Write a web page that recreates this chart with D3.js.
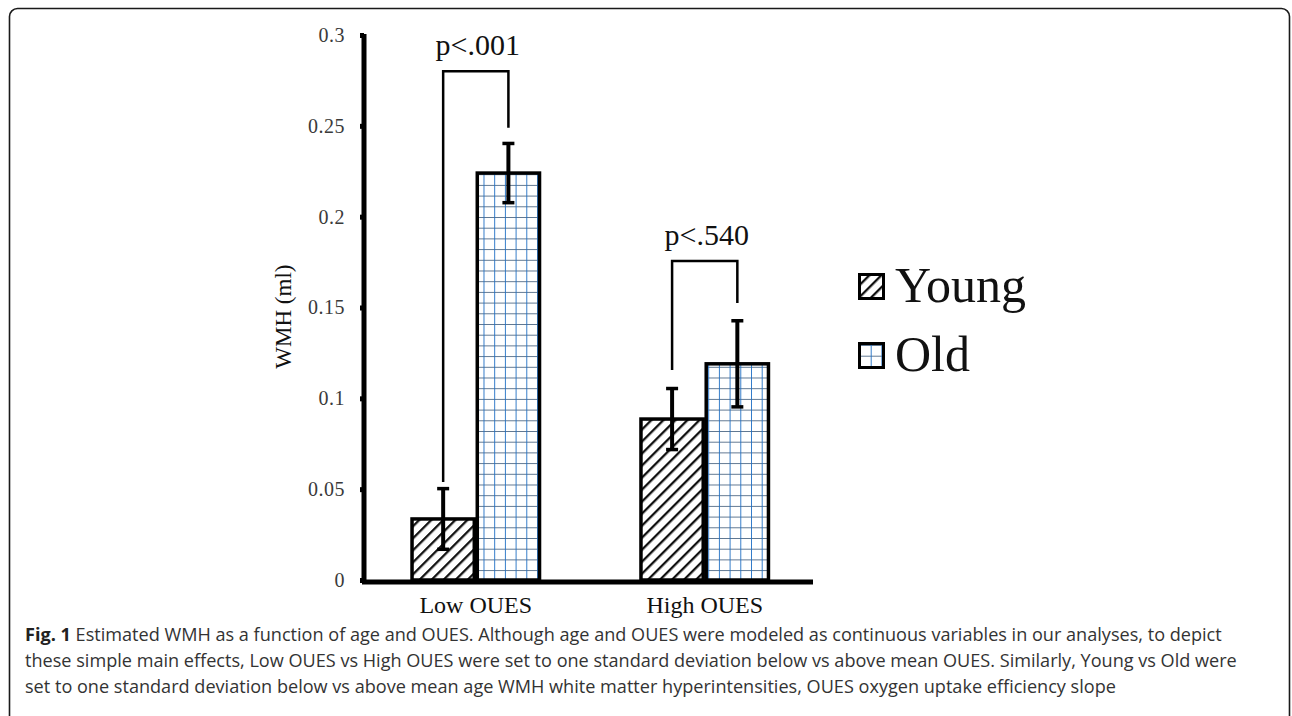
<!DOCTYPE html>
<html>
<head>
<meta charset="utf-8">
<script src="https://cdn.jsdelivr.net/npm/d3@7"></script>
<style>
  body { margin: 0; background: #fff; }
  svg { display: block; }
</style>
</head>
<body>
<div id="chart-container"></div>
<script>
// data
var groups = ["Low OUES", "High OUES"];
var series = ["Young", "Old"];
var youngMeans = [0.0336, 0.0886];
var youngErr = [0.0167, 0.0168];
var oldMeans = [0.224, 0.119];
var oldErr = [0.0163, 0.0237];
var yTicks = [0, 0.05, 0.1, 0.15, 0.2, 0.25, 0.3];
// brackets: label, top of bracket, where the left / right legs stop
var pLabels = ["p<.001", "p<.540"];
var bracketTop = [0.280, 0.1756];
var bracketLeftEnd = [0.054, 0.1156];
var bracketRightEnd = [0.249, 0.1525];

var captionLines = [
  [{b: "Fig. 1"}, " Estimated WMH as a function of age and OUES. Although age and OUES were modeled as continuous variables in our analyses, to depict"],
  ["these simple main effects, Low OUES vs High OUES were set to one standard deviation below vs above mean OUES. Similarly, Young vs Old were"],
  ["set to one standard deviation below vs above mean age WMH white matter hyperintensities, OUES oxygen uptake efficiency slope"]
];

var width = 1292, height = 716;
var margin = {top: 35, left: 362, bottom: 136, right: 479};

var svg = d3.select("#chart-container")
  .append("svg")
    .attr("width", width)
    .attr("height", height)
    .style("background", "#fff");

// frame round the figure
svg.append("rect")
  .attr("x", 9.5).attr("y", 8.5)
  .attr("width", 1280).attr("height", 760)
  .attr("rx", 8)
  .attr("fill", "none")
  .attr("stroke", "#1a1a1a")
  .attr("stroke-width", 1.6);

var defs = svg.append("defs");

// Young: diagonal hatch
var hatch = defs.append("pattern")
  .attr("id", "hatch")
  .attr("patternUnits", "userSpaceOnUse")
  .attr("width", 8.5).attr("height", 8.5)
  .attr("patternTransform", "rotate(45)");
hatch.append("rect").attr("width", 8.5).attr("height", 8.5).attr("fill", "#fff");
hatch.append("line")
  .attr("x1", 0).attr("y1", 0).attr("x2", 0).attr("y2", 8.5)
  .attr("stroke", "#111").attr("stroke-width", 4.6);

// Old: blue grid
var grid = defs.append("pattern")
  .attr("id", "grid")
  .attr("patternUnits", "userSpaceOnUse")
  .attr("x", 2).attr("y", 3)
  .attr("width", 10.7).attr("height", 10.7);
grid.append("rect").attr("width", 10.7).attr("height", 10.7).attr("fill", "#fff");
grid.append("line")
  .attr("x1", 0).attr("y1", 0).attr("x2", 10.7).attr("y2", 0)
  .attr("stroke", "#3a5878").attr("stroke-width", 1.6);
grid.append("line")
  .attr("x1", 0).attr("y1", 0).attr("x2", 0).attr("y2", 10.7)
  .attr("stroke", "#1f6fc4").attr("stroke-width", 1.8);

var fills = {Young: "url(#hatch)", Old: "url(#grid)"};

var y = d3.scaleLinear()
  .domain([0, 0.3])
  .range([height - margin.bottom, margin.top]);

var x0 = d3.scaleBand()
  .domain(groups)
  .range([margin.left, width - margin.right])
  .paddingInner(0.43)
  .paddingOuter(0.2)
  .align(0.53);

var x1 = d3.scaleBand()
  .domain(series)
  .range([0, x0.bandwidth()])
  .padding(0);

var rows = groups.map(function(g, i) {
  return {
    group: g,
    bars: [
      {s: "Young", v: youngMeans[i], e: youngErr[i]},
      {s: "Old", v: oldMeans[i], e: oldErr[i]}
    ]
  };
});

// bars
var gBars = svg.append("g");
rows.forEach(function(r) {
  gBars.selectAll(null)
    .data(r.bars)
    .enter()
    .append("rect")
      .attr("x", function(d) { return x0(r.group) + x1(d.s) + 1.5; })
      .attr("y", function(d) { return y(d.v); })
      .attr("width", x1.bandwidth() - 3)
      .attr("height", function(d) { return y(0) - y(d.v); })
      .attr("fill", function(d) { return fills[d.s]; })
      .attr("stroke", "#000")
      .attr("stroke-width", 3.5);
});

// error bars
rows.forEach(function(r) {
  r.bars.forEach(function(d) {
    var cx = x0(r.group) + x1(d.s) + x1.bandwidth() / 2;
    var g = svg.append("g").attr("stroke", "#000");
    g.append("line")
      .attr("x1", cx).attr("x2", cx)
      .attr("y1", y(d.v + d.e)).attr("y2", y(d.v - d.e))
      .attr("stroke-width", 4);
    [d.v + d.e, d.v - d.e].forEach(function(v) {
      g.append("line")
        .attr("x1", cx - 6).attr("x2", cx + 6)
        .attr("y1", y(v)).attr("y2", y(v))
        .attr("stroke-width", 3.5);
    });
  });
});

// significance brackets
groups.forEach(function(g, i) {
  var lx = x0(g) + x1("Young") + x1.bandwidth() / 2;
  var rx = x0(g) + x1("Old") + x1.bandwidth() / 2;
  svg.append("path")
    .attr("d", "M" + lx + "," + y(bracketLeftEnd[i]) +
               "V" + y(bracketTop[i]) +
               "H" + rx +
               "V" + y(bracketRightEnd[i]))
    .attr("fill", "none")
    .attr("stroke", "#000")
    .attr("stroke-width", 2.5);
  svg.append("text")
    .attr("x", (lx + rx) / 2 + 2)
    .attr("y", y(bracketTop[i]) - 16)
    .attr("text-anchor", "middle")
    .style("font-family", "'Liberation Serif', serif")
    .style("font-size", "30px")
    .style("fill", "#111")
    .text(pLabels[i]);
});

// y axis
var yAxis = svg.append("g")
  .attr("transform", "translate(" + (margin.left + 2) + ",0)")
  .call(d3.axisLeft(y).tickValues(yTicks).tickFormat(d3.format("")).tickSize(4).tickPadding(15));
yAxis.select(".domain")
  .attr("stroke", "#000")
  .attr("stroke-width", 5)
  .attr("d", "M0," + (y(0.3) - 1) + "V" + y(0));
yAxis.selectAll(".tick line").attr("stroke", "#000").attr("stroke-width", 5);
yAxis.selectAll(".tick text")
  .style("font-family", "'Liberation Serif', serif")
  .style("font-size", "20px")
  .style("letter-spacing", "0.5px")
  .style("fill", "#3a3a3a");

// x axis
var xAxis = svg.append("g")
  .attr("transform", "translate(0," + (y(0) + 2) + ")")
  .call(d3.axisBottom(x0).tickSize(0).tickPadding(14));
xAxis.select(".domain")
  .attr("stroke", "#000")
  .attr("stroke-width", 5)
  .attr("d", "M" + margin.left + ",0H" + (width - margin.right));
xAxis.selectAll(".tick text")
  .style("font-family", "'Liberation Serif', serif")
  .style("font-size", "24px")
  .style("fill", "#111");

// y label
svg.append("text")
  .attr("transform", "translate(291," + y(0.145) + ") rotate(-90)")
  .attr("text-anchor", "middle")
  .style("font-family", "'Liberation Serif', serif")
  .style("font-size", "23px")
  .style("fill", "#111")
  .text("WMH (ml)");

// legend
var legend = svg.append("g").attr("transform", "translate(858,273)");
series.forEach(function(s, i) {
  var item = legend.append("g").attr("transform", "translate(0," + (i * 69) + ")");
  item.append("rect")
    .attr("x", 1.5).attr("y", 1.5)
    .attr("width", 24).attr("height", 24)
    .attr("fill", fills[s])
    .attr("stroke", "#000")
    .attr("stroke-width", 3);
  item.append("text")
    .attr("x", 37).attr("y", 29)
    .style("font-family", "'Liberation Serif', serif")
    .style("font-size", "50px")
    .style("fill", "#111")
    .text(s);
});

// caption
var cap = svg.append("g");
captionLines.forEach(function(parts, i) {
  var t = cap.append("text")
    .attr("x", 25)
    .attr("y", 641 + i * 26)
    .style("font-family", "'Open Sans', sans-serif")
    .style("font-size", "18.1px")
    .style("fill", "#333");
  parts.forEach(function(p) {
    if (typeof p === "string") t.append("tspan").text(p);
    else t.append("tspan").style("font-weight", "bold").style("fill", "#222").text(p.b);
  });
});
</script>
</body>
</html>
